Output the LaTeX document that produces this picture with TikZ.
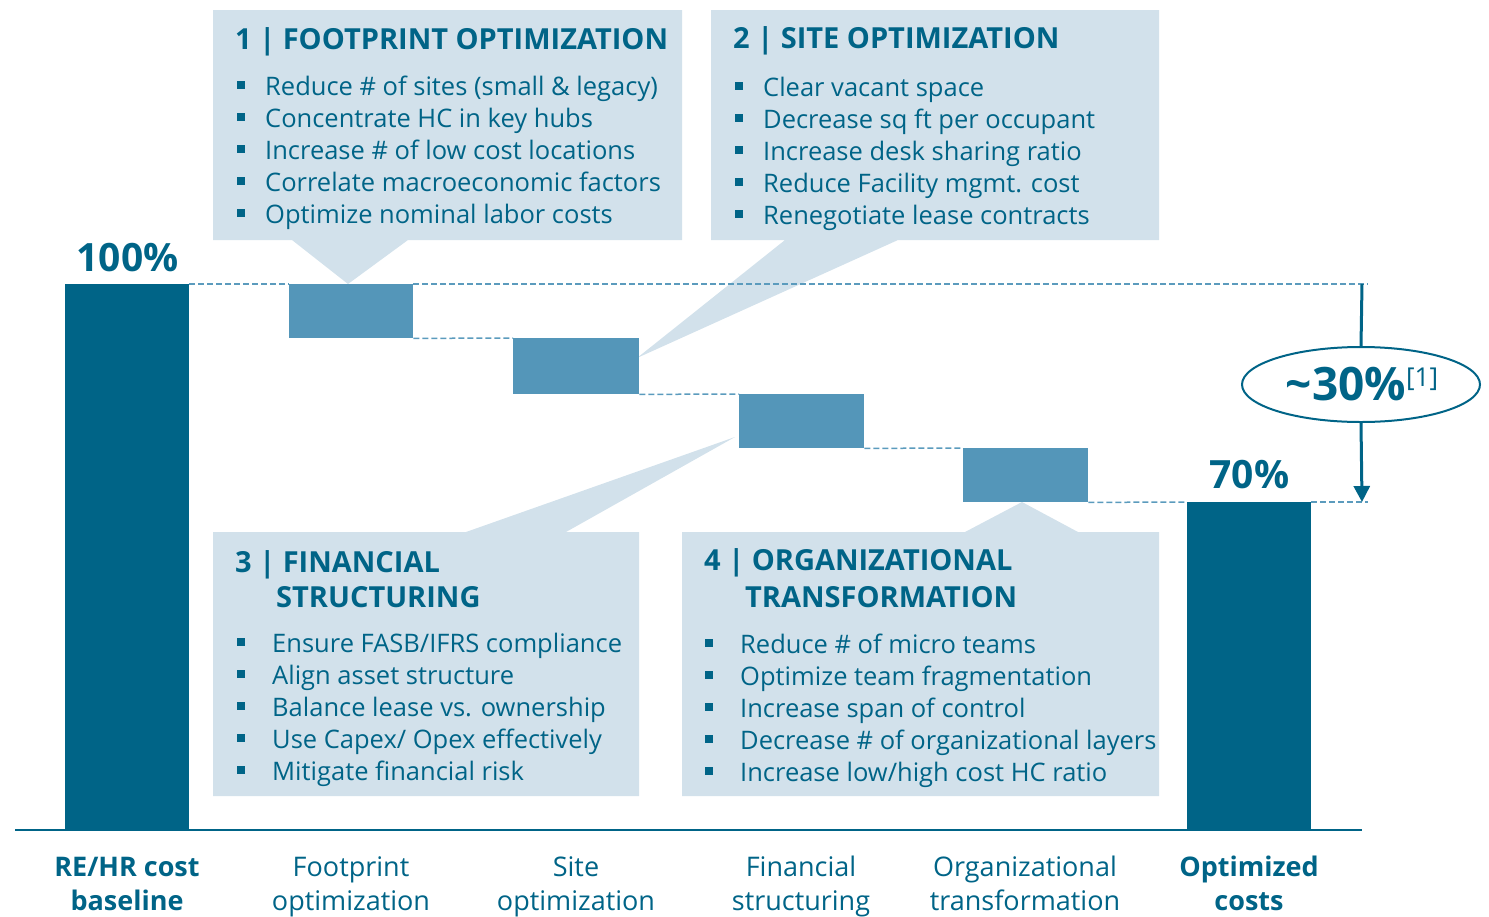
\documentclass[tikz,border=0pt]{standalone}
\usepackage{fontspec}
\setmainfont{Open Sans}
\usetikzlibrary{arrows.meta,shapes.geometric}

\definecolor{deepteal}{HTML}{006487}
\definecolor{stepblue}{HTML}{5496B9}
\definecolor{calloutfill}{HTML}{D2E1EB}
\definecolor{dashblue}{HTML}{5B9BBD}

% bullet square followed by the item text
\newcommand{\bitem}[2]{\makebox[#1][l]{\rule[6pt]{8pt}{8pt}}#2}

\tikzset{
  callout/.style={fill=calloutfill, draw=none},
  bigbar/.style={fill=deepteal, draw=none, inner sep=0pt, anchor=north west},
  stepbar/.style={fill=stepblue, draw=none, inner sep=0pt, anchor=north west},
  guide/.style={draw=dashblue, line width=1.5pt, dash pattern=on 6pt off 3pt},
  titletext/.style={font=\fontsize{29}{34}\selectfont\bfseries, text=deepteal, anchor=base west, inner sep=0pt},
  itemtext/.style={font=\fontsize{25.5}{30}\selectfont, text=deepteal, anchor=base west, inner sep=0pt},
  pcttext/.style={font=\fontsize{39}{44}\selectfont\bfseries, text=deepteal, anchor=base, inner sep=0pt},
  axislabel/.style={font=\fontsize{27}{34}\selectfont, text=deepteal, anchor=base, align=center, inner sep=0pt},
  arrowline/.style={draw=deepteal, line width=3pt},
}

\begin{document}
\begin{tikzpicture}[x=1pt,y=-1pt]
\useasboundingbox (0,0) rectangle (1489,916);

% callout boxes with their pointers
\path[callout] (213,10) -- (682,10) -- (682,240) -- (408,240) -- (348,284) -- (292,240) -- (213,240) -- cycle;
\path[callout] (711,10) -- (1159,10) -- (1159,240) -- (898,240) -- (637,358) -- (785,240) -- (711,240) -- cycle;
\path[callout] (213,532) -- (466,532) -- (735,437) -- (566,532) -- (639,532) -- (639,796) -- (213,796) -- cycle;
\path[callout] (682,532) -- (965,532) -- (1022,502) -- (1078,532) -- (1159,532) -- (1159,796) -- (682,796) -- cycle;

% waterfall bars
\node[bigbar, minimum width=124pt, minimum height=546pt] (b0) at (65,284) {};
\node[stepbar, minimum width=124pt, minimum height=54pt] (s1) at (289,284) {};
\node[stepbar, minimum width=126pt, minimum height=56pt] (s2) at (513,338) {};
\node[stepbar, minimum width=125pt, minimum height=54pt] (s3) at (739,394) {};
\node[stepbar, minimum width=125pt, minimum height=54pt] (s4) at (963,448) {};
\node[bigbar, minimum width=124pt, minimum height=328pt] (b5) at (1187,502) {};

% dashed guide lines between the bars
\coordinate (topend) at (1368,284);
\coordinate (botend) at (1368,502);
\draw[guide] (b0.north east) -- (s1.north west);
\draw[guide] (s1.north east) -- (topend);
\draw[guide] (s1.south east) -- (s2.north west);
\draw[guide] (s2.south east) -- (s3.north west);
\draw[guide] (s3.south east) -- (s4.north west);
\draw[guide] (s4.south east) -- (b5.north west);
\draw[guide] (b5.north east) -- (botend);

% axis
\coordinate (axl) at (15,830);
\coordinate (axr) at (1362,830);
\draw[deepteal, line width=2pt] (axl) -- (axr);

% percentage labels
\node[pcttext] (p100) at (127.5,271) {100\%};
\node[pcttext] (p70) at (1249.5,488) {70\%};

% savings arrow with ellipse
\node[ellipse, draw=deepteal, line width=2pt, fill=white, minimum width=238pt, minimum height=75pt, inner sep=0pt] (sav) at (1361,384.5) {};
\node[font=\fontsize{46}{50}\selectfont\bfseries, text=deepteal, anchor=base, inner sep=0pt] (savtext) at (1362,400)
  {\char"7E 30\%\raisebox{14pt}{\fontsize{26}{30}\selectfont\mdseries[1]}};
\coordinate (atop) at (1362,284);
\coordinate (abot) at (1362,502);
\draw[arrowline] (atop) -- (sav.north);
\draw[arrowline, -{Triangle[width=16pt,length=16pt]}] (sav.south) -- (abot);

% box 1
\node[titletext] (t1) at (235,49) {1 | FOOTPRINT OPTIMIZATION};
\foreach \t [count=\i] in {{Reduce \# of sites (small \& legacy)},{Concentrate HC in key hubs},{Increase \# of low cost locations},{Correlate macroeconomic factors},{Optimize nominal labor costs}}
  \node[itemtext] (i1-\i) at (237,{95+32*(\i-1)}) {\bitem{28pt}{\t}};

% box 2
\node[titletext] (t2) at (733,48) {2 | SITE OPTIMIZATION};
\foreach \t [count=\i] in {{Clear vacant space},{Decrease sq ft per occupant},{Increase desk sharing ratio},{Reduce Facility mgmt. cost},{Renegotiate lease contracts}}
  \node[itemtext] (i2-\i) at (735,{96+32*(\i-1)}) {\bitem{28pt}{\t}};

% box 3
\node[titletext] (t3a) at (235,572) {3 | FINANCIAL};
\node[titletext] (t3b) at (276,607) {STRUCTURING};
\foreach \t [count=\i] in {{Ensure FASB/IFRS compliance},{Align asset structure},{Balance lease vs. ownership},{Use Capex/ Opex effectively},{Mitigate financial risk}}
  \node[itemtext] (i3-\i) at (237,{652+32*(\i-1)}) {\bitem{35pt}{\t}};

% box 4
\node[titletext] (t4a) at (704,570) {4 | ORGANIZATIONAL};
\node[titletext] (t4b) at (745,607) {TRANSFORMATION};
\foreach \t [count=\i] in {{Reduce \# of micro teams},{Optimize team fragmentation},{Increase span of control},{Decrease \# of organizational layers},{Increase low/high cost HC ratio}}
  \node[itemtext] (i4-\i) at (705,{653+32*(\i-1)}) {\bitem{35pt}{\t}};

% axis labels (anchored at the baseline of the second line)
\node[axislabel, font=\fontsize{27}{34}\selectfont\bfseries] (l0) at (127,910) {RE/HR cost\\baseline};
\node[axislabel] (l1) at (351,910) {Footprint\\optimization};
\node[axislabel] (l2) at (576,910) {Site\\optimization};
\node[axislabel] (l3) at (801,910) {Financial\\structuring};
\node[axislabel] (l4) at (1025,910) {Organizational\\transformation};
\node[axislabel, font=\fontsize{27}{34}\selectfont\bfseries] (l5) at (1249,910) {Optimized\\costs};
\end{tikzpicture}
\end{document}
